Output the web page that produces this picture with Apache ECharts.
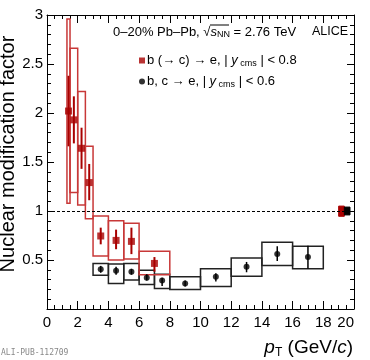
<!DOCTYPE html>
<html>
<head>
<meta charset="utf-8">
<script src="https://cdn.jsdelivr.net/npm/echarts@6/dist/echarts.min.js"></script>
<style>
  html, body { margin: 0; padding: 0; background: #fff; }
  #main { width: 370px; height: 360px; }
</style>
</head>
<body>
<div id="main"></div>
<script>
// b (-> c) -> e, |y| < 0.8
var redLo = [1.3, 1.5, 2, 2.5, 3, 4, 5, 6];
var redHi = [1.5, 2, 2.5, 3, 4, 5, 6, 8];
var redX = [1.4, 1.75, 2.25, 2.75, 3.5, 4.5, 5.5, 7];
var redRaa = [2.02, 1.93, 1.64, 1.29, 0.745, 0.70, 0.69, 0.465];
var redStatLo = [1.66, 1.69, 1.43, 1.11, 0.66, 0.61, 0.56, 0.38];
var redStatHi = [2.38, 2.17, 1.85, 1.48, 0.83, 0.81, 0.83, 0.53];
var redSysLo = [1.08, 1.19, 1.06, 0.92, 0.54, 0.50, 0.51, 0.35];
var redSysHi = [2.96, 2.66, 2.22, 1.66, 0.95, 0.90, 0.875, 0.59];

// b, c -> e, |y| < 0.6
var blackLo = [3, 4, 5, 6, 7, 8, 10, 12, 14, 16];
var blackHi = [4, 5, 6, 7, 8, 10, 12, 14, 16, 18];
var blackX = [3.5, 4.5, 5.5, 6.5, 7.5, 9, 11, 13, 15, 17];
var blackRaa = [0.405, 0.39, 0.38, 0.32, 0.29, 0.26, 0.33, 0.43, 0.56, 0.53];
var blackStatLo = [0.37, 0.35, 0.35, 0.29, 0.235, 0.23, 0.28, 0.375, 0.49, 0.41];
var blackStatHi = [0.44, 0.43, 0.41, 0.355, 0.32, 0.29, 0.365, 0.48, 0.64, 0.645];
var blackSysLo = [0.345, 0.26, 0.295, 0.25, 0.21, 0.20, 0.23, 0.335, 0.445, 0.41];
var blackSysHi = [0.465, 0.46, 0.465, 0.395, 0.355, 0.33, 0.41, 0.52, 0.68, 0.64];

// normalisation uncertainty boxes near pT = 19
var normLo = [19.0, 19.37];
var normHi = [19.37, 19.74];
var normYLo = [0.946, 0.96];
var normYHi = [1.05, 1.04];

var xTicks = [0, 2, 4, 6, 8, 10, 12, 14, 16, 18, 20];
var yTicks = [0, 0.5, 1, 1.5, 2, 2.5, 3];

var RED_BOX = '#c83838';
var RED = '#a80000';
var FONT = 'Liberation Sans';

function boxData(lo, hi, ylo, yhi) {
  return lo.map(function (v, i) { return [v, hi[i], ylo[i], yhi[i]]; });
}
function errData(x, lo, hi) {
  return x.map(function (v, i) { return [v, lo[i], hi[i]]; });
}
function ptData(x, y) {
  return x.map(function (v, i) { return [v, y[i]]; });
}

function boxRender(stroke, fill) {
  return function (params, api) {
    var a = api.coord([api.value(0), api.value(3)]);
    var b = api.coord([api.value(1), api.value(2)]);
    return {
      type: 'rect',
      shape: { x: a[0], y: a[1], width: b[0] - a[0], height: b[1] - a[1] },
      style: { fill: fill || 'none', stroke: stroke, lineWidth: 1.5 }
    };
  };
}
function errRender(color, w) {
  return function (params, api) {
    var a = api.coord([api.value(0), api.value(1)]);
    var b = api.coord([api.value(0), api.value(2)]);
    return {
      type: 'line',
      shape: { x1: a[0], y1: a[1], x2: b[0], y2: b[1] },
      style: { stroke: color, lineWidth: w }
    };
  };
}

function axisX(pos, labels) {
  return {
    type: 'value', position: pos, min: xTicks[0], max: xTicks[xTicks.length - 1], interval: 2,
    axisLine: { show: true, onZero: false, lineStyle: { color: '#000', width: 1 } },
    axisTick: { show: true, inside: true, length: 8, lineStyle: { color: '#000' } },
    minorTick: { show: true, splitNumber: 4, length: 4, lineStyle: { color: '#000' } },
    splitLine: { show: false },
    axisLabel: {
      show: labels, color: '#000', fontSize: 15, fontFamily: FONT, margin: 6,
      alignMaxLabel: 'right'
    }
  };
}
function axisY(pos, labels) {
  return {
    type: 'value', position: pos, min: yTicks[0], max: yTicks[yTicks.length - 1], interval: 0.5,
    axisLine: { show: true, onZero: false, lineStyle: { color: '#000', width: 1 } },
    axisTick: { show: true, inside: true, length: 7, lineStyle: { color: '#000' } },
    minorTick: { show: true, splitNumber: 5, length: 4, lineStyle: { color: '#000' } },
    splitLine: { show: false },
    axisLabel: {
      show: labels, color: '#000', fontSize: 15, fontFamily: FONT, margin: 4,
      formatter: function (v) { return v === 0 ? '' : String(v); }
    }
  };
}

var subStyle = { fontSize: 9, fontFamily: FONT, color: '#000', lineHeight: 9, verticalAlign: 'bottom' };
var itStyle = { fontSize: 13, fontFamily: FONT, fontStyle: 'italic', color: '#000', lineHeight: 15 };
var nStyle = { fontSize: 13, fontFamily: FONT, color: '#000', lineHeight: 15 };

var chart = echarts.init(document.getElementById('main'), null, { renderer: 'canvas' });
chart.setOption({
  animation: false,
  backgroundColor: '#fff',
  grid: { left: 47, right: 16, top: 15, bottom: 51, containLabel: false },
  xAxis: [axisX('bottom', true), axisX('top', false)],
  yAxis: [axisY('left', true), axisY('right', false)],
  legend: {
    left: 139, top: 54, padding: 0, orient: 'vertical', itemWidth: 6, itemHeight: 6, itemGap: 7,
    selectedMode: false,
    data: [
      { name: 'b', icon: 'rect', itemStyle: { color: RED } },
      { name: 'bc', icon: 'circle', itemStyle: { color: '#000' } }
    ],
    formatter: function (name) {
      if (name === 'b') return '{n|b (\u2192 c) \u2192 e, | }{it|y}{sub| cms}{n| | < 0.8}';
      return '{n|b, c \u2192 e, | }{it|y}{sub| cms}{n| | < 0.6}';
    },
    textStyle: { padding: [0, 0, 0, -3], rich: { n: nStyle, it: itStyle, sub: subStyle } }
  },
  graphic: [
    {
      type: 'text', x: 113, y: 32,
      style: {
        text: '{n|0\u201320% Pb\u2013Pb, \u221A}{it|s}{sub|NN}{n| = 2.76 TeV}',
        verticalAlign: 'middle',
        rich: { n: nStyle, it: itStyle, sub: subStyle }
      }
    },
    {
      // radical overline for sqrt(s_NN)
      type: 'line', shape: { x1: 210, y1: 25, x2: 229, y2: 25 },
      style: { stroke: '#000', lineWidth: 1 }
    },
    {
      type: 'text', x: 312, y: 32,
      style: { text: 'ALICE', font: '12.5px "Liberation Sans"', fill: '#000', verticalAlign: 'middle' }
    },
    {
      type: 'text', x: 8, y: 154, rotation: Math.PI / 2,
      style: {
        text: 'Nuclear modification factor', font: '20px "Liberation Sans"', fill: '#000',
        align: 'center', verticalAlign: 'middle'
      }
    },
    {
      type: 'text', x: 353, y: 348,
      style: {
        text: '{it|p}{sub|T}{n| (GeV/}{it|c}{n|)}',
        align: 'right', verticalAlign: 'middle',
        rich: {
          n: { fontSize: 19, fontFamily: FONT, color: '#000', lineHeight: 22 },
          it: { fontSize: 19, fontFamily: FONT, fontStyle: 'italic', color: '#000', lineHeight: 22 },
          sub: { fontSize: 12, fontFamily: FONT, color: '#000', lineHeight: 10, verticalAlign: 'bottom' }
        }
      }
    },
    {
      type: 'text', x: 1, y: 353,
      style: { text: 'ALI-PUB-112709', font: '8px "DejaVu Sans Mono"', fill: '#888', verticalAlign: 'middle' }
    }
  ],
  series: [
    {
      type: 'custom', name: 'blackSys', renderItem: boxRender('#222'),
      data: boxData(blackLo, blackHi, blackSysLo, blackSysHi),
      encode: { x: [0, 1], y: [2, 3] }, z: 2,
      markLine: {
        silent: true, symbol: ['none', 'none'], label: { show: false },
        lineStyle: { color: '#000', type: [3, 2], width: 1 },
        data: [{ yAxis: 1 }]
      }
    },
    {
      type: 'custom', name: 'redSys', renderItem: boxRender(RED_BOX),
      data: boxData(redLo, redHi, redSysLo, redSysHi),
      encode: { x: [0, 1], y: [2, 3] }, z: 3
    },
    {
      type: 'custom', name: 'norm',
      renderItem: function (params, api) {
        var a = api.coord([api.value(0), api.value(3)]);
        var b = api.coord([api.value(1), api.value(2)]);
        var c = params.dataIndex === 0 ? RED : '#000';
        return {
          type: 'rect',
          shape: { x: a[0], y: a[1], width: b[0] - a[0], height: b[1] - a[1] },
          style: { fill: c, stroke: c, lineWidth: 1 }
        };
      },
      data: boxData(normLo, normHi, normYLo, normYHi),
      encode: { x: [0, 1], y: [2, 3] }, z: 4
    },
    {
      type: 'custom', name: 'blackStat', renderItem: errRender('#000', 1.5),
      data: errData(blackX, blackStatLo, blackStatHi),
      encode: { x: 0, y: [1, 2] }, z: 5
    },
    {
      type: 'custom', name: 'redStat', renderItem: errRender(RED, 2),
      data: errData(redX, redStatLo, redStatHi),
      encode: { x: 0, y: [1, 2] }, z: 5
    },
    {
      type: 'scatter', name: 'bc', symbol: 'circle', symbolSize: 6,
      itemStyle: { color: '#000' },
      data: ptData(blackX, blackRaa), z: 6
    },
    {
      type: 'scatter', name: 'b', symbol: 'rect', symbolSize: 7,
      itemStyle: { color: RED },
      data: ptData(redX, redRaa), z: 6
    }
  ]
});
</script>
</body>
</html>
